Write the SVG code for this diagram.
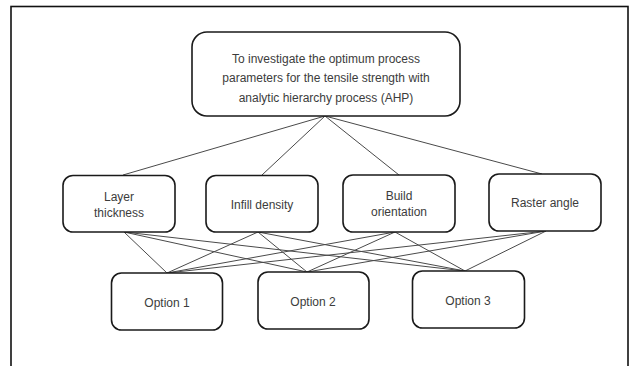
<svg xmlns="http://www.w3.org/2000/svg" width="634" height="366" viewBox="0 0 634 366">
<style>
.box{fill:#fff;stroke:#1a1a1a;stroke-width:1.6}
.t{font-family:"Liberation Sans",Arial,sans-serif;font-size:12px;fill:#3c3c3c;text-anchor:middle}
.c{stroke:#4a4a4a;stroke-width:1;fill:none}
</style>
<rect x="0" y="0" width="634" height="366" fill="#fff"/>
<rect x="11" y="6.5" width="617" height="380" fill="none" stroke="#111" stroke-width="1.6"/>
<g id="connectors">
<line class="c" x1="325" y1="116" x2="123" y2="175"/>
<line class="c" x1="325" y1="116" x2="262" y2="175"/>
<line class="c" x1="325" y1="116" x2="399" y2="175"/>
<line class="c" x1="325" y1="116" x2="542" y2="174"/>
<line class="c" x1="124" y1="232" x2="167" y2="273"/>
<line class="c" x1="124" y1="232" x2="307" y2="272"/>
<line class="c" x1="124" y1="232" x2="465" y2="271"/>
<line class="c" x1="258" y1="232" x2="167" y2="273"/>
<line class="c" x1="258" y1="232" x2="307" y2="272"/>
<line class="c" x1="258" y1="232" x2="465" y2="271"/>
<line class="c" x1="395" y1="232" x2="167" y2="273"/>
<line class="c" x1="395" y1="232" x2="307" y2="272"/>
<line class="c" x1="395" y1="232" x2="465" y2="271"/>
<line class="c" x1="546" y1="231" x2="167" y2="273"/>
<line class="c" x1="546" y1="231" x2="307" y2="272"/>
<line class="c" x1="546" y1="231" x2="465" y2="271"/>
</g>
<g id="goal">
<rect class="box" x="192" y="32" width="268" height="84" rx="15"/>
<text class="t" x="326" y="63">To investigate the optimum process</text>
<text class="t" x="326" y="82">parameters for the tensile strength with</text>
<text class="t" x="326" y="102">analytic hierarchy process (AHP)</text>
</g>
<g id="layer">
<rect class="box" x="63" y="175.5" width="112" height="56.5" rx="10"/>
<text class="t" x="119" y="201">Layer</text>
<text class="t" x="119" y="217">thickness</text>
</g>
<g id="infill">
<rect class="box" x="206" y="175.5" width="112" height="56.5" rx="10"/>
<text class="t" x="262" y="209">Infill density</text>
</g>
<g id="build">
<rect class="box" x="343" y="175" width="112" height="57" rx="10"/>
<text class="t" x="399" y="200">Build</text>
<text class="t" x="399" y="216">orientation</text>
</g>
<g id="raster">
<rect class="box" x="489" y="174" width="112" height="57" rx="10"/>
<text class="t" x="545" y="207">Raster angle</text>
</g>
<g id="option1">
<rect class="box" x="111.5" y="273" width="111" height="57" rx="10"/>
<text class="t" x="167" y="307">Option 1</text>
</g>
<g id="option2">
<rect class="box" x="258" y="272" width="111" height="57" rx="10"/>
<text class="t" x="313" y="306">Option 2</text>
</g>
<g id="option3">
<rect class="box" x="412.5" y="271" width="112" height="57" rx="10"/>
<text class="t" x="468" y="305">Option 3</text>
</g>
</svg>
